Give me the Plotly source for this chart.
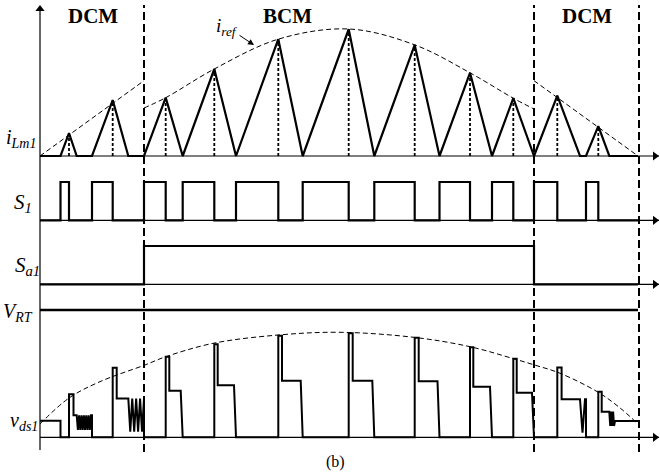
import plotly.graph_objects as go

W, H = 660, 475
FONT = "Liberation Serif, Times New Roman, serif"

# ---------------- data (time in arbitrary units, 0 = start of half line cycle) -------------
t_on = [20.5, 52, 104, 142.7, 196, 262.7, 334.3, 399.5, 452, 494, 546]          # S1 turn-on
t_off = [29, 72.7, 125.7, 174.3, 238.3, 308.7, 374.7, 430, 473.3, 517.3, 558.3]  # S1 turn-off (iLm peak)
t_zero = [36.7, 88.3, 142.7, 196, 262.7, 334.3, 399.5, 452, 494, 540, 569.3]      # iLm back to zero
i_peak = [0.18, 0.44, 0.46, 0.685, 0.92, 0.998, 0.875, 0.655, 0.455, 0.475, 0.235]
t_end = 598
bcm_start, bcm_end = 104, 494
mode_bounds = [104, 494, 599]
mode_labels = ["DCM", "BCM", "DCM"]
mode_label_t = [53, 247.5, 547]

# i_ref envelope
iref_dcm1_t, iref_dcm1_v = [0, 104], [0, 0.593]
iref_bcm_t = [104, 125.7, 174.3, 238.3, 308.7, 374.7, 430, 473.3, 494]
iref_bcm_v = [0.378, 0.459, 0.685, 0.92, 1.0, 0.875, 0.655, 0.455, 0.37]
iref_dcm2_t, iref_dcm2_v = [494, 598], [0.593, 0]

# v_ds1 (normalised to envelope peak)
vds_init = 0.158
vds_spike = [0.41, 0.663, 0.768, 0.886, 0.968, 0.99, 0.949, 0.857, 0.749, 0.665, 0.434]
vds_spike_w = [4.5, 4, 3.6, 3.4, 3.7, 4, 4, 3.3, 3.4, 4.3, 3.4]
vds_plateau = [0.21, 0.37, 0.444, 0.495, 0.539, 0.539, 0.533, 0.482, 0.425, 0.362, 0.244]
vds_ring_n = [6, 4, 0, 0, 0, 0, 0, 0, 0, 1, 3]
vds_ring_low = [0.07, 0.053, None, None, None, None, None, None, None, 0.044, 0.108]
vds_ring_end = [51, 104, None, None, None, None, None, None, None, 545, 575]
vds_settle = 0.155
vds_fall = 2.0
v_rt = 1.212
venv_t = [0, 29, 60, 105, 125, 173, 238, 300, 374, 430, 473, 494, 520, 558, 580, 597]
venv_v = [0.127, 0.374, 0.53, 0.689, 0.765, 0.895, 0.974, 1.0, 0.952, 0.863, 0.75, 0.69, 0.61, 0.43, 0.28, 0.135]

# ---------------- build waveforms ----------------
N = len(t_on)
il_t, il_v = [0], [0]
for k in range(N):
    il_t += [t_on[k], t_off[k], t_zero[k]]
    il_v += [0, i_peak[k], 0]
il_t.append(t_end); il_v.append(0)

dot_t, dot_v = [], []
for k in range(N):
    dot_t += [t_off[k], t_off[k], None]
    dot_v += [0, i_peak[k], None]

s1_t, s1_v = [0], [0]
for k in range(N):
    s1_t += [t_on[k], t_on[k], t_off[k], t_off[k]]
    s1_v += [0, 1, 1, 0]
s1_t.append(t_end); s1_v.append(0)

sa_t = [0, bcm_start, bcm_start, bcm_end, bcm_end, t_end]
sa_v = [0, 0, 1, 1, 0, 0]

vt, vv = [0, t_on[0], t_on[0]], [vds_init, vds_init, 0]
for k in range(N):
    t0, w = t_off[k], vds_spike_w[k]
    pl = vds_plateau[k]
    vt += [t0, t0, t0 + w, t0 + w]
    vv += [0, vds_spike[k], vds_spike[k], pl]
    if vds_ring_n[k] == 0:
        vt += [t_zero[k] - vds_fall, t_zero[k]]
        vv += [pl, 0]
    else:
        n = vds_ring_n[k]
        vt.append(t_zero[k]); vv.append(pl)
        dt = (vds_ring_end[k] - t_zero[k]) / n
        for j in range(n):
            vt += [t_zero[k] + dt * (j + 0.5), t_zero[k] + dt * (j + 1)]
            vv += [vds_ring_low[k], pl]
        if k + 1 < N:
            vt += [t_on[k + 1], t_on[k + 1]]
            vv += [pl, 0]
        else:
            vv[-1] = vds_settle
            vt.append(t_end); vv.append(vds_settle)

# ---------------- figure ----------------
XR = [-40, 620]
AX_END = 619
def dom(zero_px, ppu, lo, hi):
    return [1 - (zero_px - lo * ppu) / H, 1 - (zero_px - hi * ppu) / H]

panels = {
    "y":  dict(zero=156, ppu=127, lo=-0.1, hi=1.15),
    "y2": dict(zero=220.3, ppu=38.3, lo=-0.2, hi=1.3),
    "y3": dict(zero=284.3, ppu=38.3, lo=-0.2, hi=1.3),
    "y4": dict(zero=437.3, ppu=105, lo=-0.1, hi=1.3),
}

fig = go.Figure()

def add(x, y, yax, width, dash="solid", shape="linear"):
    fig.add_trace(go.Scatter(x=x, y=y, yaxis=yax, mode="lines", hoverinfo="skip", showlegend=False,
                             line=dict(color="black", width=width, dash=dash, shape=shape)))

def head(x, y, yax, sym):
    fig.add_trace(go.Scatter(x=[x], y=[y], yaxis=yax, mode="markers", hoverinfo="skip", showlegend=False,
                             cliponaxis=False, marker=dict(symbol=sym, size=8, color="black", line=dict(width=0))))

# axes
for name in panels:
    add([0, AX_END], [0, 0], name, 1.2)
    head(AX_END - 4, 0, name, "triangle-right")
# vertical axis on a full-height helper axis (pixel units)
add([0, 0], [450, 8], "y5", 1.2)
head(0, 9, "y5", "triangle-up")

# envelopes
add(iref_dcm1_t, iref_dcm1_v, "y", 1, "5px,3px")
add(iref_bcm_t, iref_bcm_v, "y", 1, "5px,3px", "spline")
add(iref_dcm2_t, iref_dcm2_v, "y", 1, "5px,3px")
add(venv_t, venv_v, "y4", 1, "5px,3px", "spline")
# dotted peak markers
add(dot_t, dot_v, "y", 1.8, "3px,2px")
# waveforms
add(il_t, il_v, "y", 2.2)
add(s1_t, s1_v, "y2", 2.2)
add(sa_t, sa_v, "y3", 2.2)
add([0, t_end], [v_rt, v_rt], "y4", 2.6)
add(vt, vv, "y4", 2.0)

layout = dict(width=W, height=H, margin=dict(l=0, r=0, t=0, b=0),
              paper_bgcolor="white", plot_bgcolor="rgba(0,0,0,0)",
              xaxis=dict(range=XR, domain=[0, 1], visible=False, fixedrange=True),
              yaxis5=dict(range=[H, 0], domain=[0, 1], visible=False, anchor="x", fixedrange=True))
for name, p in panels.items():
    key = "yaxis" if name == "y" else "yaxis" + name[1:]
    layout[key] = dict(range=[p["lo"], p["hi"]], domain=dom(p["zero"], p["ppu"], p["lo"], p["hi"]),
                       visible=False, anchor="x", fixedrange=True)
fig.update_layout(**layout)

# mode boundary dashed lines
for tb in mode_bounds:
    fig.add_shape(type="line", xref="x", yref="paper", x0=tb, x1=tb, y0=1 - 452 / H, y1=1 - 5 / H,
                  line=dict(color="black", width=2, dash="8px,4px"))

ann = []
# i_ref label with pointer arrow to the envelope
ann.append(dict(x=214, y=0.874, xref="x", yref="y", ax=-27, ay=-18, axref="pixel", ayref="pixel",
                text="<i>i</i><sub><i>ref</i></sub>", showarrow=True, standoff=0, startstandoff=0,
                arrowhead=2, arrowsize=1.2, arrowwidth=1, arrowcolor="black",
                font=dict(family=FONT, size=19, color="black")))

def px(xp, yp):
    return xp / W, 1 - yp / H

def label(text, xp, yp, size, xanchor="center", yanchor="middle"):
    x, y = px(xp, yp)
    ann.append(dict(x=x, y=y, xref="paper", yref="paper", text=text, showarrow=False,
                    xanchor=xanchor, yanchor=yanchor, font=dict(family=FONT, size=size, color="black")))

for lab, tt in zip(mode_labels, mode_label_t):
    label("<b>" + lab + "</b>", tt + 40, 16, 21)
label("<i>i</i><sub><i>Lm1</i></sub>", 38, 138, 20, xanchor="right")
label("<i>S</i><sub><i>1</i></sub>", 34, 203, 21, xanchor="right")
label("<i>S</i><sub><i>a1</i></sub>", 42, 266, 21, xanchor="right")
label("<i>V</i><sub><i>RT</i></sub>", 35, 312, 20, xanchor="right")
label("<i>v</i><sub><i>ds1</i></sub>", 40, 421, 20, xanchor="right")
label("(b)", 336, 462, 16)

fig.update_layout(annotations=ann)
fig.write_html("out.html")
